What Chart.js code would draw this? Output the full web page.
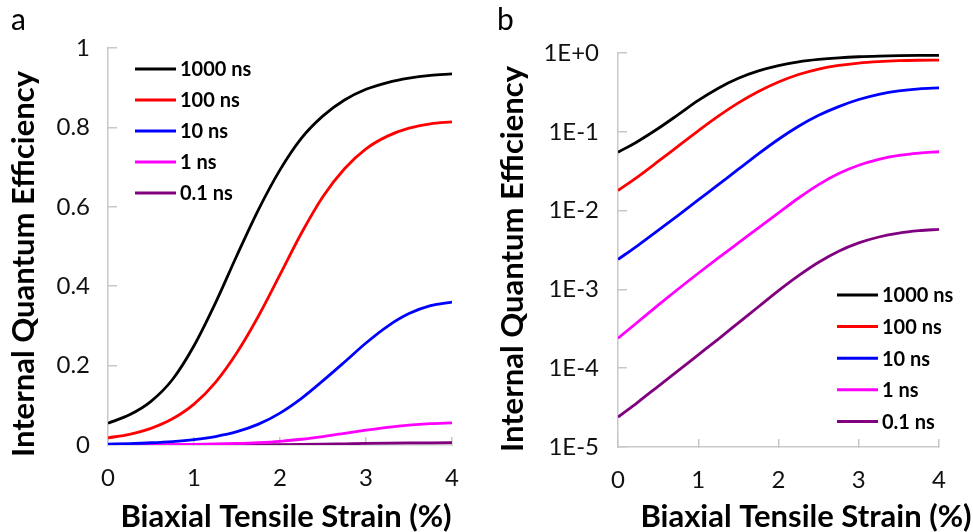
<!DOCTYPE html>
<html><head><meta charset="utf-8">
<script src="https://cdn.jsdelivr.net/npm/chart.js@4.4.1/dist/chart.umd.min.js"></script>
<style>
html,body{margin:0;padding:0;background:#fff;}
#wrap{position:relative;width:973px;height:532px;overflow:hidden;background:#fff;}
canvas{position:absolute;top:0;}
#cA{left:0;} #cB{left:490px;}
</style></head><body>
<div id="wrap"><canvas id="cA" width="490" height="532"></canvas><canvas id="cB" width="483" height="532"></canvas></div>
<script>
// ---- data ----
const strain = [0, 0.25, 0.5, 0.75, 1, 1.25, 1.5, 1.75, 2, 2.25, 2.5, 2.75, 3, 3.25, 3.5, 3.75, 4];
const seriesNames = ['1000 ns', '100 ns', '10 ns', '1 ns', '0.1 ns'];
const iqe1000ns = [0.055, 0.076, 0.110, 0.165, 0.250, 0.358, 0.478, 0.593, 0.693, 0.773, 0.829, 0.869, 0.896, 0.913, 0.924, 0.931, 0.935];
const iqe100ns  = [0.018, 0.027, 0.042, 0.066, 0.103, 0.158, 0.233, 0.325, 0.429, 0.534, 0.626, 0.696, 0.746, 0.778, 0.798, 0.809, 0.814];
const iqe10ns   = [0.0024, 0.00363, 0.00562, 0.00871, 0.01365, 0.0214, 0.0335, 0.0525, 0.0804, 0.1175, 0.162, 0.209, 0.257, 0.299, 0.331, 0.351, 0.360];
const iqe1ns    = [0.000240, 0.000389, 0.000631, 0.001012, 0.001603, 0.002512, 0.003890, 0.006026, 0.009333, 0.01445, 0.02138, 0.02951, 0.03758, 0.04467, 0.05012, 0.05370, 0.05585];
const iqe01ns   = [0.0000240, 0.0000372, 0.0000589, 0.0000933, 0.0001479, 0.0002344, 0.0003758, 0.0006026, 0.0009661, 0.001496, 0.002213, 0.003055, 0.003890, 0.004624, 0.005188, 0.005559, 0.005781];
const seriesColors = ['#000000', '#ff0000', '#0000ff', '#ff00ff', '#800080'];

const xTickValues = [0, 1, 2, 3, 4];
const xTickLabels = ['0', '1', '2', '3', '4'];
const yTickValuesLin = [0, 0.2, 0.4, 0.6, 0.8, 1];
const yTickLabelsLin = ['0', '0.2', '0.4', '0.6', '0.8', '1'];
const yTickValuesLog = [1e-5, 1e-4, 1e-3, 1e-2, 1e-1, 1];
const yTickLabelsLog = ['1E-5', '1E-4', '1E-3', '1E-2', '1E-1', '1E+0'];

const xTitle = 'Biaxial Tensile Strain (%)';
const yTitle = 'Internal Quantum Efficiency';
const panelLetters = ['a', 'b'];

// ---- helpers ----
const allSeries = [iqe1000ns, iqe100ns, iqe10ns, iqe1ns, iqe01ns];
function makeDatasets() {
  return allSeries.map((vals, i) => ({
    label: seriesNames[i],
    data: strain.map((s, k) => ({x: s, y: vals[k]})),
    borderColor: seriesColors[i],
    backgroundColor: seriesColors[i],
    borderWidth: 2.8,
    pointRadius: 0,
    fill: false,
    cubicInterpolationMode: 'monotone'
  }));
}

const FONT = 'Lato';
const AXIS_COLOR = '#c8c8c8';

const decor = {
  id: 'decor',
  afterDraw(chart, args, o) {
    const ctx = chart.ctx;
    ctx.save();
    // legend
    chart.data.datasets.forEach((ds, i) => {
      const y = o.lgY + i * o.lgDy;
      ctx.strokeStyle = ds.borderColor;
      ctx.lineWidth = 3;
      ctx.beginPath();
      ctx.moveTo(o.lgX, y);
      ctx.lineTo(o.lgX + o.lgLen, y);
      ctx.stroke();
      ctx.fillStyle = '#000';
      ctx.font = 'bold 20px ' + FONT;
      ctx.textAlign = 'left';
      ctx.textBaseline = 'middle';
      ctx.fillText(ds.label, o.lgX + o.lgLen + 4, y + 1);
    });
    // axis titles
    ctx.fillStyle = '#000';
    ctx.font = 'bold 31px ' + FONT;
    ctx.textAlign = 'center';
    ctx.textBaseline = 'alphabetic';
    ctx.fillText(xTitle, o.xtX, o.xtY);
    ctx.save();
    ctx.translate(o.ytX, o.ytY);
    ctx.rotate(-Math.PI / 2);
    ctx.fillText(yTitle, 0, 0);
    ctx.restore();
    // panel letter
    ctx.font = '30px ' + FONT;
    ctx.textAlign = 'left';
    ctx.fillText(o.letter, o.ltX, o.ltY);
    ctx.restore();
  }
};

function xScale(height) {
  return {
    type: 'linear', min: 0, max: 4,
    afterBuildTicks: s => { s.ticks = xTickValues.map(v => ({value: v})); },
    ticks: {
      font: {family: FONT, size: 24}, color: '#111', padding: 27, maxRotation: 0, autoSkip: false,
      callback: (v, i) => xTickLabels[i]
    },
    grid: {drawOnChartArea: false, drawTicks: true, tickLength: -8, color: AXIS_COLOR, lineWidth: 1.5},
    border: {color: AXIS_COLOR, width: 1.5},
    afterFit: s => { s.height = height; }
  };
}

// ---- panel a (linear) ----
new Chart(document.getElementById('cA'), {
  type: 'line',
  data: {datasets: makeDatasets()},
  plugins: [decor],
  options: {
    responsive: false, animation: false, devicePixelRatio: 1, events: [],
    layout: {padding: {top: 48, right: 38, bottom: 0, left: 0}},
    plugins: {
      legend: {display: false}, tooltip: {enabled: false},
      decor: {lgX: 135, lgLen: 41, lgY: 69, lgDy: 31, xtX: 286, xtY: 527, ytX: 34, ytY: 264, letter: panelLetters[0], ltX: 11, ltY: 30}
    },
    scales: {
      x: xScale(87),
      y: {
        type: 'linear', min: 0, max: 1,
        afterBuildTicks: s => { s.ticks = yTickValuesLin.map(v => ({value: v})); },
        ticks: {font: {family: FONT, size: 24}, color: '#111', padding: 27, autoSkip: false,
          callback: (v, i) => yTickLabelsLin[i]},
        grid: {drawOnChartArea: false, drawTicks: true, tickLength: -9, color: AXIS_COLOR, lineWidth: 1.5},
        border: {color: AXIS_COLOR, width: 1.5},
        afterFit: s => { s.width = 108; }
      }
    }
  }
});

// ---- panel b (log) ----
new Chart(document.getElementById('cB'), {
  type: 'line',
  data: {datasets: makeDatasets()},
  plugins: [decor],
  options: {
    responsive: false, animation: false, devicePixelRatio: 1, events: [],
    layout: {padding: {top: 53, right: 20, bottom: 0, left: 0}},
    plugins: {
      legend: {display: false}, tooltip: {enabled: false},
      decor: {lgX: 347, lgLen: 41, lgY: 295, lgDy: 31.6, xtX: 316, xtY: 527, ytX: 33, ytY: 259, letter: panelLetters[1], ltX: 7, ltY: 30}
    },
    scales: {
      x: xScale(85),
      y: {
        type: 'logarithmic', min: 1e-5, max: 1,
        afterBuildTicks: s => { s.ticks = yTickValuesLog.map(v => ({value: v})); },
        ticks: {font: {family: FONT, size: 24}, color: '#111', padding: 28, autoSkip: false,
          callback: (v, i) => yTickLabelsLog[i]},
        grid: {drawOnChartArea: false, drawTicks: true, tickLength: -9, color: AXIS_COLOR, lineWidth: 1.5},
        border: {color: AXIS_COLOR, width: 1.5},
        afterFit: s => { s.width = 128; }
      }
    }
  }
});
</script>
</body></html>
